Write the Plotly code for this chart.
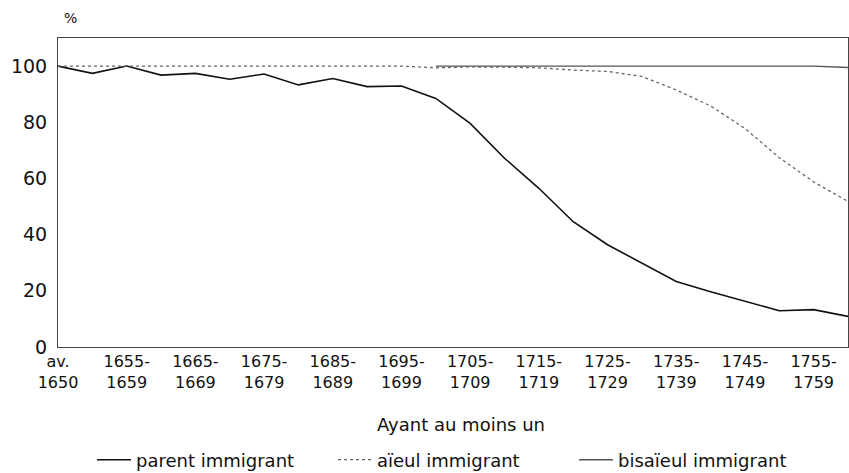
import plotly.graph_objects as go

categories = ["av. 1650", "1650-1654", "1655-1659", "1660-1664", "1665-1669", "1670-1674",
              "1675-1679", "1680-1684", "1685-1689", "1690-1694", "1695-1699", "1700-1704",
              "1705-1709", "1710-1714", "1715-1719", "1720-1724", "1725-1729", "1730-1734",
              "1735-1739", "1740-1744", "1745-1749", "1750-1754", "1755-1759", "1760-1764"]

parent = [100, 97.4, 100, 96.8, 97.4, 95.3, 97.2, 93.3, 95.6, 92.7, 92.9, 88.5,
          79.6, 67.2, 56.5, 44.6, 36.4, 30.0, 23.3, 19.7, 16.2, 12.9, 13.3, 10.9]
aieul = [100, 100, 100, 100, 100, 100, 100, 100, 100, 100, 100, 99.4,
         99.7, 99.6, 99.4, 98.6, 98.1, 96.3, 91.5, 85.8, 77.8, 67.4, 58.8, 51.8]
bisaieul = [None, None, None, None, None, None, None, None, None, None, None, 100,
            100, 100, 100, 100, 100, 100, 100, 100, 100, 100, 100, 99.5]

tick_cats = ["av. 1650", "1655-1659", "1665-1669", "1675-1679", "1685-1689", "1695-1699",
             "1705-1709", "1715-1719", "1725-1729", "1735-1739", "1745-1749", "1755-1759"]
tick_text = ["av.<br>1650", "1655-<br>1659", "1665-<br>1669", "1675-<br>1679", "1685-<br>1689",
             "1695-<br>1699", "1705-<br>1709", "1715-<br>1719", "1725-<br>1729", "1735-<br>1739",
             "1745-<br>1749", "1755-<br>1759"]
y_ticks = [0, 20, 40, 60, 80, 100]

FONT = "DejaVu Sans"

fig = go.Figure()
fig.add_trace(go.Scatter(x=categories, y=parent, mode="lines", name="parent immigrant",
                         line=dict(color="#111111", width=1.6)))
fig.add_trace(go.Scatter(x=categories, y=aieul, mode="lines", name="aïeul immigrant",
                         line=dict(color="#666666", width=1.3, dash="dot")))
fig.add_trace(go.Scatter(x=categories, y=bisaieul, mode="lines", name="bisaïeul immigrant",
                         line=dict(color="#555555", width=1.4)))

fig.update_layout(
    width=849, height=473,
    margin=dict(l=58, r=1, t=38, b=126),
    paper_bgcolor="white", plot_bgcolor="white",
    font=dict(family=FONT, color="#111111"),
    showlegend=True,
    legend=dict(orientation="h", xref="container", yref="container",
                x=92 / 849, xanchor="left", y=(473 - 460) / 473, yanchor="middle",
                font=dict(size=18, family=FONT), itemwidth=34,
                entrywidth=192, entrywidthmode="pixels", tracegroupgap=0),
    xaxis=dict(type="category", categoryorder="array", categoryarray=categories,
               range=[0, len(categories) - 1], tickmode="array", tickvals=tick_cats,
               ticktext=tick_text, tickfont=dict(size=16, family=FONT),
               showline=True, linecolor="#444444", linewidth=1, mirror=True,
               showgrid=False, zeroline=False, ticks="", automargin=False),
    yaxis=dict(range=[0, 110], tickmode="array", tickvals=y_ticks,
               tickfont=dict(size=19, family=FONT),
               showline=True, linecolor="#444444", linewidth=1, mirror=True,
               showgrid=False, zeroline=False, ticks="", ticklabelstandoff=6,
               automargin=False),
    annotations=[
        dict(text="%", xref="paper", yref="paper", x=0.005, y=1.065, xanchor="left",
             yanchor="middle", showarrow=False, font=dict(size=14, family=FONT)),
        dict(text="Ayant au moins un", xref="paper", yref="paper", x=0.51, y=-0.252,
             xanchor="center", yanchor="middle", showarrow=False,
             font=dict(size=18, family=FONT)),
    ],
)

fig.write_html("out.html", config={"displayModeBar": False},
               post_script="document.body.style.margin='0';document.body.style.overflow='hidden';")
